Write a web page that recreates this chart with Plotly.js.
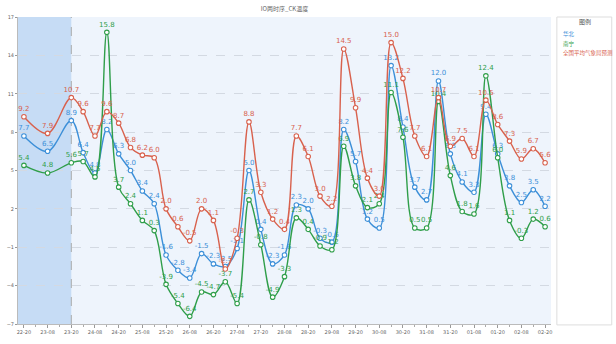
<!DOCTYPE html>
<html>
<head>
<meta charset="utf-8">
<script src="https://cdn.plot.ly/plotly-3.0.1.min.js"></script>
<style>
html,body{margin:0;padding:0;background:#fff;}
#chart{width:616px;height:344px;}
</style>
</head>
<body>
<div id="chart"></div>
<script>
// ---- data ----
var times = [
  '2023-10-22 20:00','2023-10-23 08:00','2023-10-23 20:00',
  '2023-10-24 02:00','2023-10-24 08:00','2023-10-24 14:00','2023-10-24 20:00',
  '2023-10-25 02:00','2023-10-25 08:00','2023-10-25 14:00','2023-10-25 20:00',
  '2023-10-26 02:00','2023-10-26 08:00','2023-10-26 14:00','2023-10-26 20:00',
  '2023-10-27 02:00','2023-10-27 08:00','2023-10-27 14:00','2023-10-27 20:00',
  '2023-10-28 02:00','2023-10-28 08:00','2023-10-28 14:00','2023-10-28 20:00',
  '2023-10-29 02:00','2023-10-29 08:00','2023-10-29 14:00','2023-10-29 20:00',
  '2023-10-30 02:00','2023-10-30 08:00','2023-10-30 14:00','2023-10-30 20:00',
  '2023-10-31 02:00','2023-10-31 08:00','2023-10-31 14:00','2023-10-31 20:00',
  '2023-11-01 02:00','2023-11-01 08:00','2023-11-01 14:00','2023-11-01 20:00',
  '2023-11-02 02:00','2023-11-02 08:00','2023-11-02 14:00','2023-11-02 20:00'
];
var seriesNames = ['华北', '南宁', '全国平均气象局预测'];
var blueValues = [7.7, 6.5, 8.9, 6.4, 4.8, 8.2, 6.3, 5.0, 3.4, 2.4, -1.6, -2.8, -3.4, -1.5, -2.3, -2.5, -1.1, 5.0, 0.4, -2.3, -1.6, 2.3, 2.0, -0.3, -0.6, 8.2, 5.7, 1.2, 0.5, 13.2, 8.4, 3.7, 2.7, 12.0, 6.3, 4.1, 3.3, 9.4, 6.3, 3.8, 2.5, 3.5, 2.2];
var greenValues = [5.4, 4.8, 5.6, 5.7, 4.5, 15.8, 3.7, 2.4, 1.1, 0.3, -3.9, -5.4, -6.4, -4.5, -4.7, -3.7, -5.4, 2.7, -0.8, -4.9, -3.3, 1.3, 0.4, -0.9, -1.2, 6.9, 3.8, 2.1, 2.4, 11.1, 7.6, 0.5, 0.5, 10.4, 4.6, 1.8, 1.6, 12.4, 6.0, 1.1, -0.3, 1.2, 0.6];
var redValues = [9.2, 7.9, 10.7, 9.6, 7.7, 9.6, 8.7, 6.8, 6.2, 6.0, 2.0, 0.6, -0.5, 2.0, 1.1, -2.7, -0.3, 8.8, 3.3, 1.2, 0.4, 7.7, 6.1, 3.0, 2.2, 14.5, 9.9, 4.4, 3.0, 15.0, 12.2, 7.7, 6.1, 10.7, 6.9, 7.5, 6.1, 10.5, 8.6, 7.3, 5.9, 6.7, 5.6];
var historyEnd = '2023-10-23 20:00';
var xStart = '2023-10-22 17:00';
var xEnd = '2023-11-02 23:00';
var chartTitle = 'IO两时序_CK温度';
var legendTitle = '图例';

// ---- styles ----
var colors = ['#3c8fd8', '#2f9e4a', '#d8614d'];
var allValues = [blueValues, greenValues, redValues];

var traces = allValues.map(function (vals, k) {
  return {
    type: 'scatter',
    mode: 'lines+markers+text',
    x: times,
    y: vals,
    name: seriesNames[k],
    text: vals.map(function (v) { return v.toFixed(1); }),
    textposition: 'top center',
    textfont: {size: 7, color: colors[k], family: 'DejaVu Sans'},
    line: {color: colors[k], width: 1.4, shape: 'spline', smoothing: 1},
    marker: {symbol: 'circle', size: 4.5, color: '#ffffff', line: {color: colors[k], width: 1.1}},
    cliponaxis: false,
    showlegend: false,
    hoverinfo: 'x+y'
  };
});

var annotations = [
  {xref: 'paper', yref: 'paper', x: 1.063, y: 0.985, text: legendTitle, showarrow: false,
   font: {size: 6, color: '#555', family: 'Noto Sans CJK SC'}, xanchor: 'center', yanchor: 'middle'}
];
seriesNames.forEach(function (n, k) {
  annotations.push({
    xref: 'paper', yref: 'paper', x: 1.0195, y: 0.943 - k * 0.03,
    text: n, showarrow: false, xanchor: 'left', yanchor: 'middle',
    font: {size: 5.5, color: colors[k], family: 'Noto Sans CJK SC'}
  });
});

var layout = {
  width: 616, height: 344,
  margin: {l: 18, r: 65, t: 17, b: 20, pad: 0},
  paper_bgcolor: '#ffffff',
  plot_bgcolor: '#eef4fc',
  title: {text: chartTitle, x: 0.5, xref: 'paper', y: 0.98, yref: 'container', yanchor: 'top',
          font: {size: 6, color: '#666', family: 'Noto Sans CJK SC'}},
  xaxis: {
    type: 'date', range: [xStart, xEnd],
    tick0: '2023-10-22 20:00', dtick: 43200000, tickformat: '%d-%H',
    tickfont: {size: 5, color: '#666', family: 'DejaVu Sans'},
    ticks: 'outside', ticklen: 3, tickcolor: '#999',
    minor: {dtick: 21600000, tick0: '2023-10-22 20:00', ticks: 'outside', ticklen: 2, tickcolor: '#aaa', showgrid: false},
    showgrid: false, showline: true, linecolor: '#bbb', linewidth: 1, zeroline: false
  },
  yaxis: {
    range: [-7, 17], tick0: -7, dtick: 3,
    tickfont: {size: 5, color: '#666', family: 'DejaVu Sans'},
    ticks: 'outside', ticklen: 2, tickcolor: '#999',
    showgrid: true, gridcolor: '#d3d9e2', griddash: 'dash', gridwidth: 1,
    showline: true, linecolor: '#bbb', linewidth: 1, zeroline: false
  },
  shapes: [
    {type: 'rect', xref: 'x', yref: 'paper', x0: xStart, x1: historyEnd, y0: 0, y1: 1,
     fillcolor: '#c6dcf5', line: {width: 0}, layer: 'below'},
    {type: 'line', xref: 'x', yref: 'paper', x0: historyEnd, x1: historyEnd, y0: 0, y1: 1,
     line: {color: '#aaaaaa', width: 1, dash: 'dash'}, layer: 'below'},
    {type: 'rect', xref: 'paper', yref: 'paper', x0: 1.011, x1: 1.114, y0: -0.003, y1: 1.0,
     fillcolor: '#ffffff', line: {color: '#dddddd', width: 1}}
  ],
  annotations: annotations,
  showlegend: false
};

Plotly.newPlot('chart', traces, layout, {displayModeBar: false, staticPlot: true});
</script>
</body>
</html>
